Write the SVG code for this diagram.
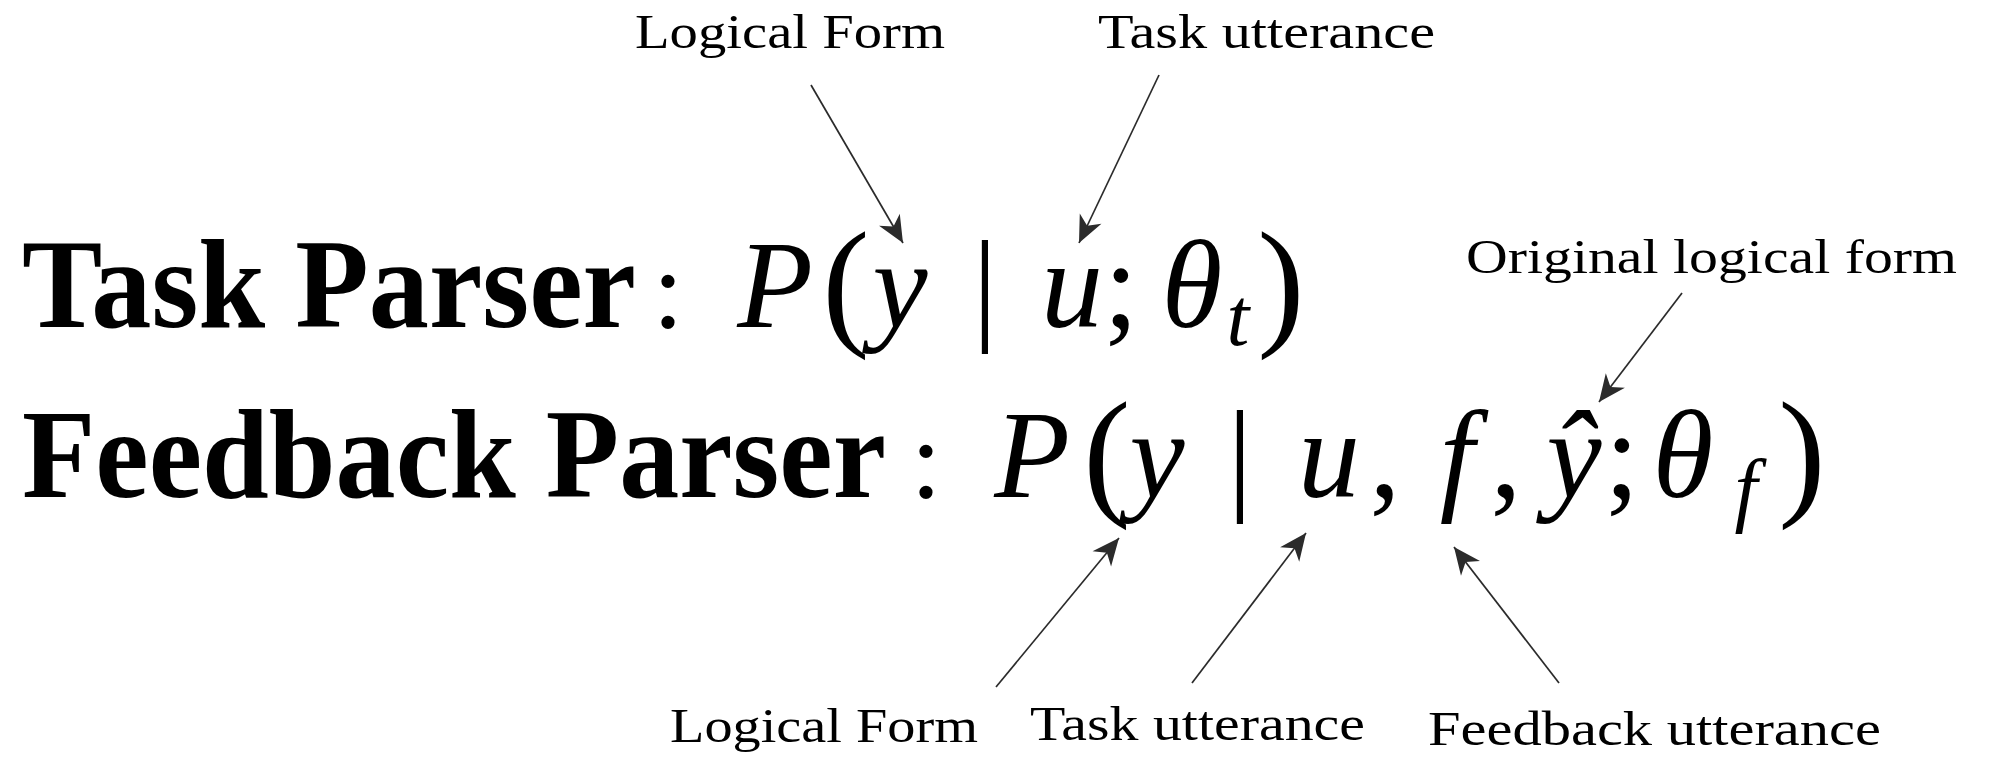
<svg xmlns="http://www.w3.org/2000/svg" width="1991" height="761" viewBox="0 0 1991 761">
<style>
.lbl{font-family:"Liberation Serif",serif;font-size:49px;fill:#000}
.bold{font-family:"Liberation Serif",serif;font-weight:bold;font-size:119px;fill:#000}
.m{font-family:"Liberation Serif",serif;font-style:italic;font-size:124px;fill:#000;text-anchor:middle}
.up{font-style:normal}
.col{font-size:112px}
.par{font-style:normal;font-size:142px}
.sub{font-size:82px}
.conn line{stroke:#2b2b2b;stroke-width:1.7;fill:none;marker-end:url(#ah)}
</style>
<defs>
<marker id="ah" viewBox="-28 -14 30 28" refX="0" refY="0" markerWidth="30" markerHeight="28" markerUnits="userSpaceOnUse" orient="auto">
<path d="M0,0 L-27,-12 L-19,0 L-27,12 Z" fill="#2b2b2b"/>
</marker>
</defs>
<rect width="1991" height="761" fill="#fff"/>

<g id="task-parser">
<text class="bold" x="22" y="308.5" transform="scale(1,1.06)" textLength="614" lengthAdjust="spacingAndGlyphs">Task Parser</text>
<text class="m up col" x="668" y="327">:</text>
<text class="m" x="775" y="327">P</text>
<text class="m par" x="846" y="330">(</text>
<text class="m" x="900" y="327">y</text>
<text class="m up" x="985" y="327">|</text>
<text class="m" x="1072" y="327">u</text>
<text class="m up" x="1121" y="327">;</text>
<text class="m" x="1192" y="327">θ</text>
<text class="m sub" x="1238" y="345">t</text>
<text class="m par" x="1281" y="330">)</text>
</g>

<g id="feedback-parser">
<text class="bold" x="22" y="468.9" transform="scale(1,1.06)" textLength="864" lengthAdjust="spacingAndGlyphs">Feedback Parser</text>
<text class="m up col" x="926" y="497">:</text>
<text class="m" x="1032" y="497">P</text>
<text class="m par" x="1107" y="500">(</text>
<text class="m" x="1157" y="497">y</text>
<text class="m up" x="1240" y="497">|</text>
<text class="m" x="1329" y="497">u</text>
<text class="m up" x="1385" y="497">,</text>
<text class="m" x="1457" y="497">f</text>
<text class="m up" x="1506" y="497">,</text>
<text class="m" x="1574" y="497">ŷ</text>
<text class="m up" x="1622" y="497">;</text>
<text class="m" x="1683" y="497">θ</text>
<text class="m sub" x="1746" y="516">f</text>
<text class="m par" x="1802" y="500">)</text>
</g>

<g id="label-logical-form-top"><text class="lbl" x="635" y="48" textLength="310" lengthAdjust="spacingAndGlyphs">Logical Form</text></g>
<g id="label-task-utterance-top"><text class="lbl" x="1098" y="48" textLength="337" lengthAdjust="spacingAndGlyphs">Task utterance</text></g>
<g id="label-original-logical-form"><text class="lbl" x="1466" y="273" textLength="491" lengthAdjust="spacingAndGlyphs">Original logical form</text></g>
<g id="label-logical-form-bottom"><text class="lbl" x="670" y="742" textLength="308" lengthAdjust="spacingAndGlyphs">Logical Form</text></g>
<g id="label-task-utterance-bottom"><text class="lbl" x="1030" y="740" textLength="335" lengthAdjust="spacingAndGlyphs">Task utterance</text></g>
<g id="label-feedback-utterance"><text class="lbl" x="1428" y="745" textLength="453" lengthAdjust="spacingAndGlyphs">Feedback utterance</text></g>

<g id="connectors" class="conn">
<line x1="811" y1="85" x2="903" y2="243"/>
<line x1="1159" y1="75" x2="1079" y2="243"/>
<line x1="1682" y1="293" x2="1599" y2="402"/>
<line x1="996" y1="687" x2="1119" y2="538"/>
<line x1="1192" y1="683" x2="1306" y2="533"/>
<line x1="1559" y1="683" x2="1454" y2="547"/>
</g>
</svg>
